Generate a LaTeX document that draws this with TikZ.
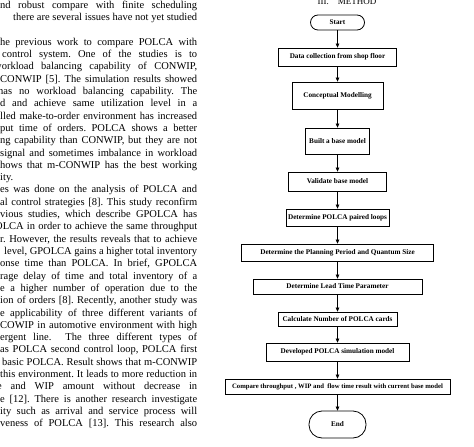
\documentclass[tikz,border=0pt]{standalone}
\usepackage{fontspec}
\setmainfont{Liberation Serif}
\usetikzlibrary{arrows.meta}
\frenchspacing

\newcommand{\colline}[3]{%
  \node[coltext] (line#1) at (#2,{8.5+12.3*#1}) {\makebox[\dimexpr197bp-(#2bp)\relax][s]{#3}};}

\begin{document}
\begin{tikzpicture}[x=1bp,y=-1bp,
    coltext/.style={anchor=base west,inner sep=0pt,font=\fontsize{10.5bp}{12bp}\selectfont},
    box/.style={draw,line width=0.8bp,inner sep=0pt,align=center,
      font=\fontsize{7.2bp}{8bp}\selectfont\bfseries},
    term/.style={box,rounded corners=#1},
    flow/.style={line width=0.6bp,-{Triangle[length=4bp,width=3.6bp]}}]
        \useasboundingbox (0,0) rectangle (474,447);
        \colline{0}{0}{nd robust compare with finite scheduling}
        \colline{1}{13}{there are several issues have not yet studied}
        \colline{3}{0}{he previous work to compare POLCA with}
        \colline{4}{2}{control system. One of the studies is to}
        \colline{5}{-6}{workload balancing capability of CONWIP,}
        \colline{6}{0}{CONWIP [5]. The simulation results showed}
        \colline{7}{-2}{has no workload balancing capability. The}
        \colline{8}{0}{d and achieve same utilization level in a}
        \colline{9}{0}{lled make-to-order environment has increased}
        \colline{10}{0}{put time of orders. POLCA shows a better}
        \colline{11}{0}{ng capability than CONWIP, but they are not}
        \colline{12}{0}{signal and sometimes imbalance in workload}
        \colline{13}{0}{hows that m-CONWIP has the best working}
        \node[coltext] (line14) at (0,{8.5+12.3*14}) {ity.};
        \colline{15}{0}{es was done on the analysis of POLCA and}
        \colline{16}{0}{al control strategies [8]. This study reconfirm}
        \colline{17}{0}{vious studies, which describe GPOLCA has}
        \colline{18}{-5}{OLCA in order to achieve the same throughput}
        \colline{19}{0}{r. However, the results reveals that to achieve}
        \colline{20}{4}{level, GPOLCA gains a higher total inventory}
        \colline{21}{0}{onse time than POLCA. In brief, GPOLCA}
        \colline{22}{0}{rage delay of time and total inventory of a}
        \colline{23}{0}{e a higher number of operation due to the}
        \colline{24}{0}{ion of orders [8]. Recently, another study was}
        \colline{25}{0}{e applicability of three different variants of}
        \colline{26}{0}{COWIP in automotive environment with high}
        \colline{27}{0}{ergent line.\ \ The three different types of}
        \colline{28}{0}{as POLCA second control loop, POLCA first}
        \colline{29}{2}{basic POLCA. Result shows that m-CONWIP}
        \colline{30}{0}{this environment. It leads to more reduction in}
        \colline{31}{-3}{e and WIP amount without decrease in}
        \colline{32}{0}{e [12]. There is another research investigate}
        \colline{33}{0}{ity such as arrival and service process will}
        \colline{34}{0}{veness of POLCA [13]. This research also}

        \node[font=\fontsize{9bp}{10bp}\selectfont,inner sep=0pt] (title) at (347,2) {III.\hspace{1em}METHOD};
        \node[term=7.5bp,minimum width=54bp,minimum height=15bp] (start) at (337.5,22.5) {Start};
        \node[box,minimum width=118bp,minimum height=18bp] (data) at (337.5,57) {Data collection from shop floor};
        \node[box,minimum width=91bp,minimum height=27bp] (concept) at (337.5,95.5) {Conceptual Modelling};
        \node[box,minimum width=64bp,minimum height=26bp] (base) at (337.5,141) {Built a base model};
        \node[box,minimum width=98bp,minimum height=19bp] (valid) at (337.5,181.5) {Validate base model};
        \node[box,minimum width=103bp,minimum height=17bp] (loops) at (337.5,217.5) {Determine POLCA paired loops};
        \node[box,minimum width=192bp,minimum height=17bp] (period) at (337.5,252.5) {Determine the Planning Period and Quantum Size};
        \node[box,minimum width=169bp,minimum height=15bp] (lead) at (337.5,286.5) {Determine Lead Time Parameter};
        \node[box,minimum width=119bp,minimum height=14bp] (cards) at (337.5,319) {Calculate Number of POLCA cards};
        \node[box,minimum width=143bp,minimum height=18bp] (simmodel) at (337.5,352) {Developed POLCA simulation model};
        \node[box,font=\fontsize{6.7bp}{8bp}\selectfont\bfseries,minimum width=225bp,minimum height=15bp] (compare) at (337.5,386.5) {Compare throughput , WIP and\ \ flow time result with current base model};
        \node[term=13bp,minimum width=57bp,minimum height=27bp] (end) at (337.5,424.5) {End};

        \foreach \a/\b in {start/data,data/concept,concept/base,base/valid,valid/loops,loops/period,
            period/lead,lead/cards,cards/simmodel,simmodel/compare,compare/end}
            \draw[flow] (\a) -- (\b);
\end{tikzpicture}
\end{document}
